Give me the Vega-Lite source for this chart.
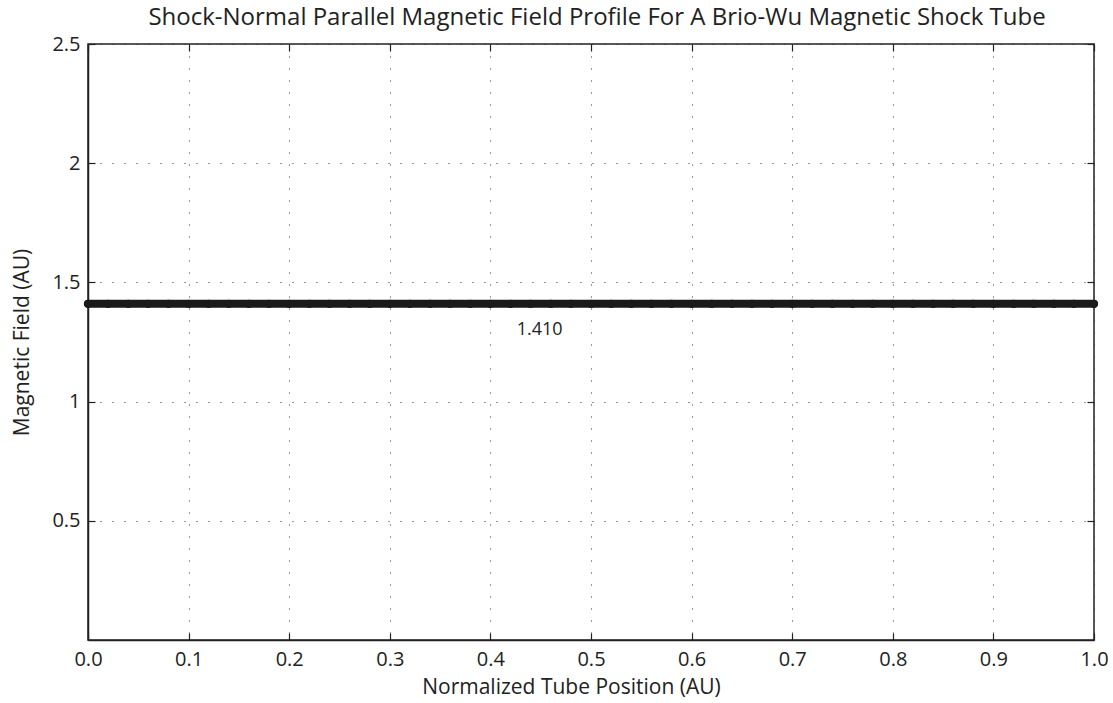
{
  "$schema": "https://vega.github.io/schema/vega-lite/v6.json",
  "autosize": {"type": "none"},
  "width": 1006,
  "height": 596,
  "padding": {"left": 88, "top": 44, "right": 19, "bottom": 63},
  "background": "white",
  "title": {"text": "Shock-Normal Parallel Magnetic Field Profile For A Brio-Wu Magnetic Shock Tube", "font": "Open Sans", "fontSize": 24, "fontWeight": "normal", "color": "#222", "offset": 4, "anchor": "middle", "dx": 6},
  "config": {
    "view": {"stroke": "#222", "strokeWidth": 1.5},
    "axis": {"labelFont": "Open Sans", "labelFontSize": 20, "labelColor": "#222", "titleFont": "Open Sans", "titleFontSize": 21, "titleFontWeight": "normal", "titleColor": "#222", "domainColor": "#222", "domainWidth": 1.5, "tickColor": "#222", "tickSize": -7, "tickWidth": 1.2, "gridColor": "#333", "gridDash": [1, 11], "gridWidth": 1, "gridOpacity": 1, "labelFlush": false}
  },
  "resolve": {"axis": {"x": "independent", "y": "independent"}},
  "datasets": {
    "profile": [
      {"x": 0.0, "b": 1.41}, {"x": 0.02, "b": 1.41}, {"x": 0.04, "b": 1.41}, {"x": 0.06, "b": 1.41}, {"x": 0.08, "b": 1.41},
      {"x": 0.1, "b": 1.41}, {"x": 0.12, "b": 1.41}, {"x": 0.14, "b": 1.41}, {"x": 0.16, "b": 1.41}, {"x": 0.18, "b": 1.41},
      {"x": 0.2, "b": 1.41}, {"x": 0.22, "b": 1.41}, {"x": 0.24, "b": 1.41}, {"x": 0.26, "b": 1.41}, {"x": 0.28, "b": 1.41},
      {"x": 0.3, "b": 1.41}, {"x": 0.32, "b": 1.41}, {"x": 0.34, "b": 1.41}, {"x": 0.36, "b": 1.41}, {"x": 0.38, "b": 1.41},
      {"x": 0.4, "b": 1.41}, {"x": 0.42, "b": 1.41}, {"x": 0.44, "b": 1.41}, {"x": 0.46, "b": 1.41}, {"x": 0.48, "b": 1.41},
      {"x": 0.5, "b": 1.41}, {"x": 0.52, "b": 1.41}, {"x": 0.54, "b": 1.41}, {"x": 0.56, "b": 1.41}, {"x": 0.58, "b": 1.41},
      {"x": 0.6, "b": 1.41}, {"x": 0.62, "b": 1.41}, {"x": 0.64, "b": 1.41}, {"x": 0.66, "b": 1.41}, {"x": 0.68, "b": 1.41},
      {"x": 0.7, "b": 1.41}, {"x": 0.72, "b": 1.41}, {"x": 0.74, "b": 1.41}, {"x": 0.76, "b": 1.41}, {"x": 0.78, "b": 1.41},
      {"x": 0.8, "b": 1.41}, {"x": 0.82, "b": 1.41}, {"x": 0.84, "b": 1.41}, {"x": 0.86, "b": 1.41}, {"x": 0.88, "b": 1.41},
      {"x": 0.9, "b": 1.41}, {"x": 0.92, "b": 1.41}, {"x": 0.94, "b": 1.41}, {"x": 0.96, "b": 1.41}, {"x": 0.98, "b": 1.41},
      {"x": 1.0, "b": 1.41}
    ],
    "label": [{"x": 0.449, "b": 1.3, "text": "1.410"}]
  },
  "layer": [
    {
      "data": {"name": "profile"},
      "mark": {"type": "line", "color": "#1a1a1a", "strokeWidth": 8, "strokeCap": "round", "clip": false},
      "encoding": {
        "x": {"field": "x", "type": "quantitative", "scale": {"domain": [0, 1], "nice": false},
          "axis": {"title": "Normalized Tube Position (AU)", "values": [0, 0.1, 0.2, 0.3, 0.4, 0.5, 0.6, 0.7, 0.8, 0.9, 1.0], "format": ".1f", "grid": true, "labelPadding": 16, "titlePadding": 7, "titleX": 483, "titleAlign": "center"}},
        "y": {"field": "b", "type": "quantitative", "scale": {"domain": [0, 2.5], "nice": false},
          "axis": {"title": "Magnetic Field (AU)", "values": [0.5, 1, 1.5, 2, 2.5], "format": "~g", "grid": true, "labelPadding": 15, "titlePadding": 19}}
      }
    },
    {
      "data": {"name": "profile"},
      "mark": {"type": "point", "filled": true, "color": "#1a1a1a", "size": 70, "opacity": 1, "clip": false},
      "encoding": {
        "x": {"field": "x", "type": "quantitative",
          "axis": {"orient": "top", "title": null, "labels": false, "grid": false, "domain": false, "values": [0, 0.1, 0.2, 0.3, 0.4, 0.5, 0.6, 0.7, 0.8, 0.9, 1.0]}},
        "y": {"field": "b", "type": "quantitative",
          "axis": {"orient": "right", "title": null, "labels": false, "grid": false, "domain": false, "values": [0.5, 1, 1.5, 2, 2.5]}}
      }
    },
    {
      "data": {"name": "label"},
      "mark": {"type": "text", "font": "Open Sans", "fontSize": 18, "color": "#222", "align": "center", "baseline": "middle"},
      "encoding": {
        "x": {"field": "x", "type": "quantitative", "axis": null},
        "y": {"field": "b", "type": "quantitative", "axis": null},
        "text": {"field": "text"}
      }
    }
  ]
}
